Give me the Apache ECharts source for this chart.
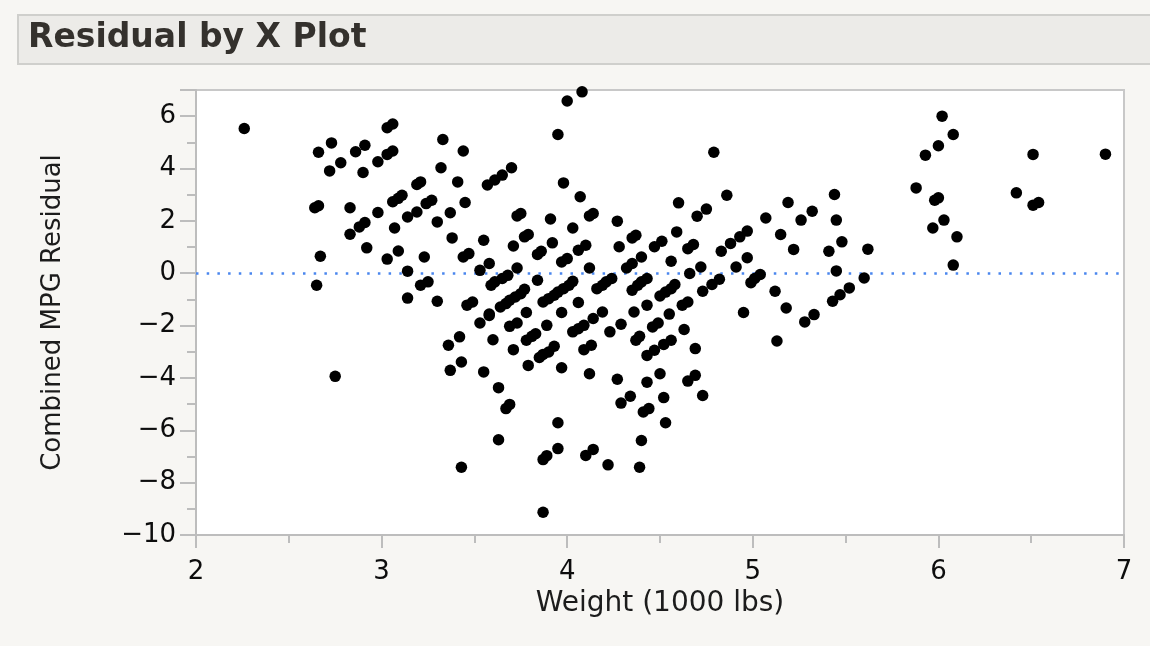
<!DOCTYPE html>
<html>
<head>
<meta charset="utf-8">
<title>Residual by X Plot</title>
<script src="https://cdn.jsdelivr.net/npm/echarts@6/dist/echarts.min.js"></script>
<style>
  html, body { margin: 0; padding: 0; background: #f7f6f3; }
  #chart { width: 1150px; height: 646px; }
</style>
</head>
<body>
<div id="chart"></div>
<script>
// Vehicle weight (1000 lbs) for each observation
const weight = [
  2.26, 2.66, 2.73, 2.72, 2.78, 2.86, 2.91, 2.90, 2.98, 3.03, 3.06, 3.03, 3.06,
  2.64, 2.66, 2.83, 2.83, 2.88, 2.91, 2.98, 2.92, 3.07, 3.06, 3.09, 3.11, 3.19,
  3.21, 3.14, 3.19, 2.67, 3.03, 3.09, 3.14, 2.65, 3.21, 3.25, 3.14, 3.23, 2.75,
  4.00, 4.08, 3.95, 3.33, 3.44, 3.32, 3.41, 3.57, 3.61, 3.65, 3.70, 3.98, 4.07,
  3.27, 3.24, 3.45, 3.37, 3.30, 3.73, 3.75, 3.91, 4.12, 4.14, 4.27, 3.38, 3.55,
  3.77, 3.79, 3.71, 3.92, 4.03, 3.84, 3.86, 4.06, 4.10, 4.28, 4.35, 4.37, 3.44,
  3.47, 3.53, 3.58, 3.73, 3.97, 4.00, 4.12, 4.32, 4.35, 4.40, 3.30, 3.46, 3.49,
  3.59, 3.61, 3.65, 3.68, 3.84, 3.64, 3.67, 3.69, 3.72, 3.75, 3.77, 3.87, 3.90,
  3.93, 3.95, 3.98, 4.01, 4.03, 4.06, 4.16, 4.19, 4.21, 4.24, 4.19, 4.35, 4.38,
  4.40, 4.43, 4.36, 3.97, 3.78, 3.58, 3.53, 3.58, 3.42, 3.36, 3.60, 3.69, 3.73,
  3.78, 3.81, 3.83, 3.89, 3.71, 3.37, 3.43, 3.55, 3.79, 3.85, 3.87, 3.90, 3.93,
  3.97, 3.63, 3.67, 3.69, 3.43, 3.63, 3.95, 3.87, 3.89, 3.95, 3.87, 4.03, 4.06,
  4.09, 4.14, 4.23, 4.29, 4.43, 4.09, 4.13, 4.12, 4.27, 4.29, 4.34, 4.10, 4.14,
  4.22, 4.39, 4.40, 4.37, 4.39, 4.43, 4.43, 4.41, 4.44, 4.79, 4.60, 4.70, 4.75,
  4.86, 5.07, 5.19, 5.26, 5.32, 5.15, 5.22, 5.44, 5.45, 5.48, 5.41, 5.62, 5.45,
  5.60, 5.52, 5.47, 5.43, 4.59, 4.51, 4.47, 4.65, 4.68, 4.56, 4.72, 4.66, 4.83,
  4.88, 4.93, 4.97, 4.91, 4.97, 4.99, 5.01, 5.04, 5.12, 5.18, 4.95, 5.33, 4.73,
  4.78, 4.82, 4.58, 4.56, 4.53, 4.50, 4.62, 4.65, 4.55, 5.28, 5.13, 4.46, 4.49,
  4.63, 4.47, 4.52, 4.56, 4.69, 4.50, 4.65, 4.69, 4.52, 4.73, 4.53, 6.02, 6.08,
  6.00, 5.93, 5.88, 5.98, 6.00, 6.03, 5.97, 6.10, 6.08, 6.51, 6.90, 6.42, 6.51,
  6.54
];

// Combined MPG residual for the same observations
const residual = [
  5.53, 4.62, 4.98, 3.91, 4.22, 4.64, 4.89, 3.85, 4.26, 5.56, 5.70, 4.54, 4.67,
  2.50, 2.58, 2.50, 1.49, 1.77, 1.94, 2.32, 0.97, 1.73, 2.73, 2.86, 2.98, 3.39,
  3.49, 2.15, 2.34, 0.65, 0.54, 0.85, 0.08, -0.46, -0.46, -0.33, -0.95, 0.62, -3.94,
  6.58, 6.93, 5.30, 5.11, 4.67, 4.03, 3.49, 3.37, 3.56, 3.75, 4.03, 3.45, 2.92,
  2.79, 2.66, 2.70, 2.31, 1.96, 2.19, 2.28, 2.07, 2.19, 2.28, 1.99, 1.35, 1.26,
  1.39, 1.48, 1.04, 1.16, 1.73, 0.72, 0.84, 0.88, 1.07, 1.01, 1.35, 1.45, 0.62,
  0.75, 0.11, 0.37, 0.20, 0.43, 0.56, 0.20, 0.20, 0.37, 0.62, -1.07, -1.22, -1.10,
  -0.46, -0.33, -0.20, -0.08, -0.27, -1.29, -1.16, -1.03, -0.91, -0.78, -0.61, -1.10, -0.97,
  -0.84, -0.72, -0.59, -0.46, -0.31, -1.12, -0.59, -0.46, -0.33, -0.20, -1.48, -0.65, -0.46,
  -0.33, -0.20, -1.48, -1.50, -1.50, -1.56, -1.90, -1.61, -2.43, -2.75, -2.54, -2.03, -1.90,
  -2.56, -2.41, -2.31, -1.99, -2.92, -3.71, -3.39, -3.77, -3.52, -3.22, -3.10, -3.01, -2.79,
  -3.61, -4.37, -5.17, -5.01, -7.41, -6.36, -5.71, -7.12, -6.97, -6.70, -9.13, -2.24, -2.12,
  -1.99, -1.73, -2.24, -1.95, -1.22, -2.92, -2.75, -3.84, -4.05, -4.96, -4.70, -6.96, -6.73,
  -7.32, -7.41, -6.39, -2.56, -2.41, -3.14, -4.16, -5.30, -5.17, 4.62, 2.69, 2.18, 2.45,
  2.98, 2.11, 2.70, 2.03, 2.37, 1.48, 0.91, 3.01, 2.03, 1.20, 0.84, 0.92, 0.09,
  -0.18, -0.56, -0.82, -1.07, 1.58, 1.22, 1.01, 0.94, 1.10, 0.46, 0.24, -0.01, 0.84,
  1.14, 1.39, 1.61, 0.24, 0.59, -0.36, -0.20, -0.05, -0.69, -1.33, -1.50, -1.58, -0.69,
  -0.43, -0.23, -0.43, -0.59, -0.72, -0.87, -1.22, -1.10, -1.56, -1.86, -2.59, -2.05, -1.90,
  -2.15, -2.94, -2.72, -2.56, -2.88, -3.84, -4.12, -3.90, -4.75, -4.67, -5.71, 6.00, 5.30,
  4.87, 4.51, 3.26, 2.79, 2.88, 2.03, 1.73, 1.39, 0.31, 4.54, 4.55, 3.07, 2.60,
  2.70
];

// Axis ranges
const xRange = { min: 2, max: 7, step: 1 };
const yRange = { min: -10, max: 7, step: 2 };

const points = weight.map((w, i) => [w, residual[i]]);

const FONT = 'DejaVu Sans';
const fmtNum = v => (v < 0 ? '\u2212' + Math.abs(v) : String(v));

const chart = echarts.init(document.getElementById('chart'), null, { renderer: 'canvas' });

chart.setOption({
  backgroundColor: '#f7f6f3',
  animation: false,
  graphic: [
    {
      type: 'rect',
      left: 17, top: 14,
      shape: { width: 1150, height: 49 },
      style: { fill: '#ecebe8', stroke: '#cfcfcc', lineWidth: 2 },
      z: 0
    },
    {
      type: 'text',
      left: 28, top: 22,
      style: {
        text: 'Residual by X Plot',
        font: 'bold 33px "DejaVu Sans"',
        fill: '#34312d'
      },
      z: 1
    }
  ],
  grid: {
    left: 196, right: 26, top: 90, bottom: 111,
    show: true,
    backgroundColor: '#ffffff',
    borderColor: '#c8c8c8',
    borderWidth: 2
  },
  xAxis: {
    type: 'value',
    min: xRange.min, max: xRange.max, interval: xRange.step,
    name: 'Weight (1000 lbs)',
    nameLocation: 'middle',
    nameGap: 53,
    nameTextStyle: { fontFamily: FONT, fontSize: 28, color: '#1c1c1c' },
    axisLine: { show: true, onZero: false, lineStyle: { color: '#bdbdbd', width: 2 } },
    axisTick: { show: true, inside: false, length: 13, lineStyle: { color: '#bdbdbd', width: 2 } },
    minorTick: { show: true, splitNumber: 2, length: 8, lineStyle: { color: '#bdbdbd', width: 2 } },
    axisLabel: { fontFamily: FONT, fontSize: 26, color: '#0d0d0d', margin: 24, formatter: fmtNum },
    splitLine: { show: false }
  },
  yAxis: {
    type: 'value',
    min: yRange.min, max: yRange.max, interval: yRange.step,
    name: 'Combined MPG Residual',
    nameLocation: 'middle',
    nameGap: 130,
    nameRotate: 90,
    nameTextStyle: { fontFamily: FONT, fontSize: 26, color: '#1c1c1c' },
    axisLine: { show: true, onZero: false, lineStyle: { color: '#bdbdbd', width: 2 } },
    axisTick: { show: true, inside: false, length: 16, lineStyle: { color: '#bdbdbd', width: 2 } },
    minorTick: { show: true, splitNumber: 2, length: 9, lineStyle: { color: '#bdbdbd', width: 2 } },
    axisLabel: { fontFamily: FONT, fontSize: 26, color: '#0d0d0d', margin: 20, formatter: fmtNum, showMaxLabel: false },
    splitLine: { show: false }
  },
  series: [
    {
      type: 'scatter',
      data: points,
      symbol: 'circle',
      symbolSize: 11.5,
      itemStyle: { color: '#000000', opacity: 1 },
      z: 3,
      markLine: {
        silent: true,
        symbol: ['none', 'none'],
        label: { show: false },
        lineStyle: { color: '#4a86ee', type: [2.5, 8.2], width: 2.5, opacity: 1 },
        data: [{ yAxis: 0 }],
        z: 2
      }
    }
  ]
});
</script>
</body>
</html>
